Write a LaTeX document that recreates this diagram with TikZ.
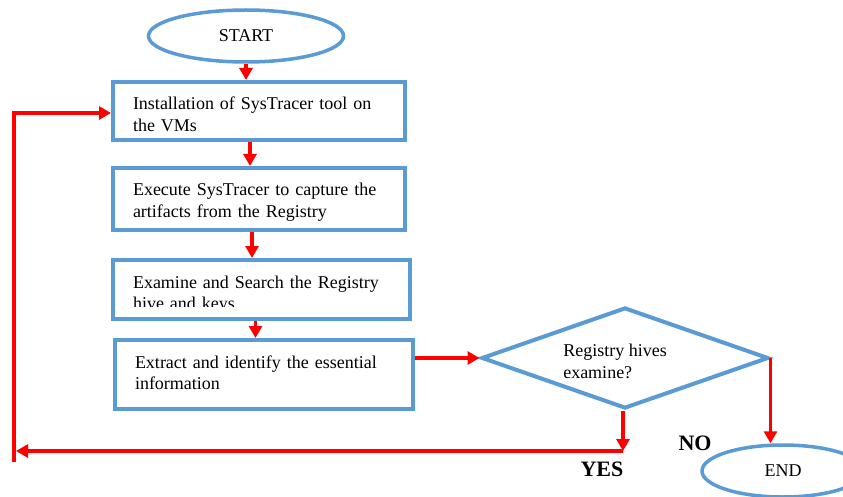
\documentclass[tikz,border=0pt]{standalone}
\usepackage{fontspec}
\setmainfont{Liberation Serif}
\usetikzlibrary{shapes.geometric,arrows.meta,calc}
\definecolor{boxblue}{RGB}{91,155,213}
\definecolor{arrred}{RGB}{255,0,0}
\begin{document}
\begin{tikzpicture}[x=1pt,y=-1pt,
  txt/.style={font=\fontsize{18}{21.8}\selectfont},
  procbox/.style={draw=boxblue, line width=4pt, rectangle, inner xsep=20pt, inner ysep=0pt, align=left, txt, text height=28pt},
  term/.style={draw=boxblue, ellipse, line width=3.5pt, inner sep=0pt, txt},
  decision/.style={draw=boxblue, diamond, line width=4pt, inner sep=0pt},
  arr/.style={draw=arrred, line width=3.5pt, -{Triangle[length=12pt,width=13pt]}},
  lbl/.style={font=\fontsize{22}{26}\selectfont\bfseries, inner sep=0pt}
]
\clip (0,0) rectangle (843,497);
\fill[white] (0,0) rectangle (843,497);

\node[term, minimum width=195pt, minimum height=52pt] (start) at (246,36) {START};
\node[procbox, text width=252pt, minimum height=58pt, text depth=30pt] (box1) at (259,111) {Installation of SysTracer tool on\\the VMs};
\node[procbox, text width=252pt, minimum height=62pt, text depth=34pt] (box2) at (259,199) {Execute SysTracer to capture the\\artifacts from the Registry};
\node[procbox, text width=257pt, minimum height=59pt, text depth=31pt] (box3) at (261.5,289.5) {};
\begin{scope}
  \clip (113,262) rectangle (410,306.7);
  \node[procbox, draw=none, text width=257pt, minimum height=59pt, text depth=31pt] (box3txt) at (261.5,289.5) {Examine and Search the Registry\\hive and keys};
\end{scope}
\node[procbox, text width=258pt, minimum height=69pt, text depth=41pt] (box4) at (264,374.5) {Extract and identify the essential\\information};

\node[decision, minimum width=287pt, minimum height=101pt] (dec) at (625,358) {};
\node[txt, align=left, inner sep=0pt] (dectxt) at (615,361) {Registry hives\\examine?};

\node[term, minimum width=162pt, minimum height=52pt] (finish) at (783,471) {END};

\node[lbl] (yes) at (602,469) {YES};
\node[lbl] (no) at (695,443) {NO};

\coordinate (yc) at (623,451);
\coordinate (yl) at (16,451);
\coordinate (lb) at (14,462);
\coordinate (lt) at (14,113);

\draw[arr] (start.south) -- (start.south |- box1.north);
\draw[arr] ([xshift=-9pt]box1.south) -- ([xshift=-9pt]box1.south |- box2.north);
\draw[arr] ([xshift=-7pt]box2.south) -- ([xshift=-7pt]box2.south |- box3.north);
\draw[arr] ([xshift=-6pt]box3.south) -- ([xshift=-6pt]box3.south |- box4.north);
\draw[arr] (box4.east |- dec.west) -- (dec.west);
\draw[arr] ([xshift=-2pt]dec.south) -- (yc);
\draw[arr] (yc) -- (yl);
\draw[arr] (lb) -- (lt) -- (lt -| box1.west);
\draw[arr] (dec.east) -- (dec.east |- finish.north);
\end{tikzpicture}
\end{document}
